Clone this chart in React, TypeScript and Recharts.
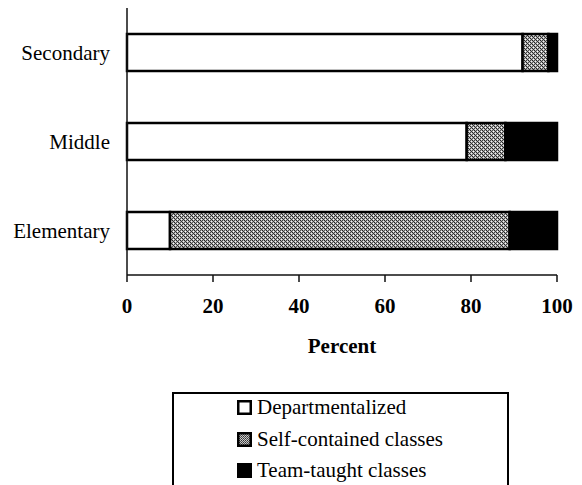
import React from "react";
import { BarChart, Bar, XAxis, YAxis } from "recharts";

const categories = ["Secondary", "Middle", "Elementary"];
const departmentalized = [92, 79, 10];
const selfContained = [6, 9, 79];
const teamTaught = [2, 12, 11];
const percentTicks = [0, 20, 40, 60, 80, 100];
const seriesNames = ["Departmentalized", "Self-contained classes", "Team-taught classes"];

const FONT = "Liberation Serif, DejaVu Serif, serif";

const data = categories.map((name, i) => ({
  name,
  dep: departmentalized[i],
  self: selfContained[i],
  team: teamTaught[i],
}));

// legend swatch
function Swatch({ kind }: { kind: number }) {
  const fill = kind === 0 ? "#fff" : kind === 1 ? "url(#speckleLegend)" : "#000";
  return (
    <svg width={15} height={15} style={{ marginRight: 5, flex: "none" }}>
      <defs>
        <pattern id="speckleLegend" width={2} height={2} patternUnits="userSpaceOnUse">
          <rect width={2} height={2} fill="#c8c8c8" />
          <rect width={1} height={1} fill="#333" />
          <rect x={1} y={1} width={1} height={1} fill="#555" />
        </pattern>
      </defs>
      <rect x={1.25} y={1.25} width={12.5} height={12.5} fill={fill} stroke="#000" strokeWidth={2.5} />
    </svg>
  );
}

export default function App() {
  return (
    <div
      style={{
        position: "absolute",
        left: 0,
        top: 0,
        width: 582,
        height: 485,
        background: "#fff",
        overflow: "hidden",
        fontFamily: FONT,
      }}
    >
      <BarChart
        width={582}
        height={485}
        data={data}
        layout="vertical"
        margin={{ top: 8, right: 25, bottom: 0, left: 0 }}
        style={{ fontFamily: FONT }}
      >
        <defs>
          <pattern id="speckle" width={4} height={4} patternUnits="userSpaceOnUse">
            <rect width={4} height={4} fill="#b0b0b0" />
            <rect x={0} y={0} width={1} height={1} fill="#222" />
            <rect x={2} y={0} width={1} height={1} fill="#444" />
            <rect x={1} y={1} width={1} height={1} fill="#333" />
            <rect x={3} y={1} width={1} height={1} fill="#eee" />
            <rect x={0} y={2} width={1} height={1} fill="#555" />
            <rect x={2} y={2} width={1} height={1} fill="#222" />
            <rect x={1} y={3} width={1} height={1} fill="#fff" />
            <rect x={3} y={3} width={1} height={1} fill="#333" />
          </pattern>
        </defs>
        <XAxis
          type="number"
          domain={[0, 100]}
          ticks={percentTicks}
          height={210}
          tickSize={7}
          tickMargin={16}
          axisLine={{ stroke: "#111", strokeWidth: 1.5 }}
          tickLine={{ stroke: "#111", strokeWidth: 1.5 }}
          tick={{ fill: "#000", fontSize: 21, fontWeight: 700, fontFamily: FONT }}
          label={(props: any) => {
            const vb = props.viewBox;
            return (
              <text
                x={vb.x + vb.width / 2}
                y={vb.y + 78}
                textAnchor="middle"
                fill="#000"
                fontSize={21}
                fontWeight={700}
                style={{ fontFamily: FONT }}
              >
                Percent
              </text>
            );
          }}
        />
        <YAxis
          type="category"
          dataKey="name"
          width={127}
          tickLine={false}
          tickSize={0}
          tickMargin={17}
          axisLine={{ stroke: "#111", strokeWidth: 1.5 }}
          tick={{ fill: "#000", fontSize: 21, fontFamily: FONT }}
        />
        <Bar dataKey="dep" stackId="a" barSize={37} fill="#fff" stroke="#000" strokeWidth={2.5} isAnimationActive={false} />
        <Bar dataKey="self" stackId="a" barSize={37} fill="url(#speckle)" stroke="#000" strokeWidth={2.5} isAnimationActive={false} />
        <Bar dataKey="team" stackId="a" barSize={37} fill="#000" stroke="#000" strokeWidth={2.5} isAnimationActive={false} />
      </BarChart>

      {/* 凡例 */}
      <div
        style={{
          position: "absolute",
          left: 172,
          top: 392,
          width: 333,
          height: 110,
          border: "2px solid #000",
          boxSizing: "content-box",
        }}
      >
        {seriesNames.map((s, i) => (
          <div
            key={s}
            style={{
              display: "flex",
              alignItems: "center",
              height: 31.5,
              marginTop: i === 0 ? -2 : 0,
              paddingLeft: 63,
              fontSize: 21,
              color: "#000",
              lineHeight: "31.5px",
            }}
          >
            <Swatch kind={i} />
            <span>{s}</span>
          </div>
        ))}
      </div>
    </div>
  );
}
